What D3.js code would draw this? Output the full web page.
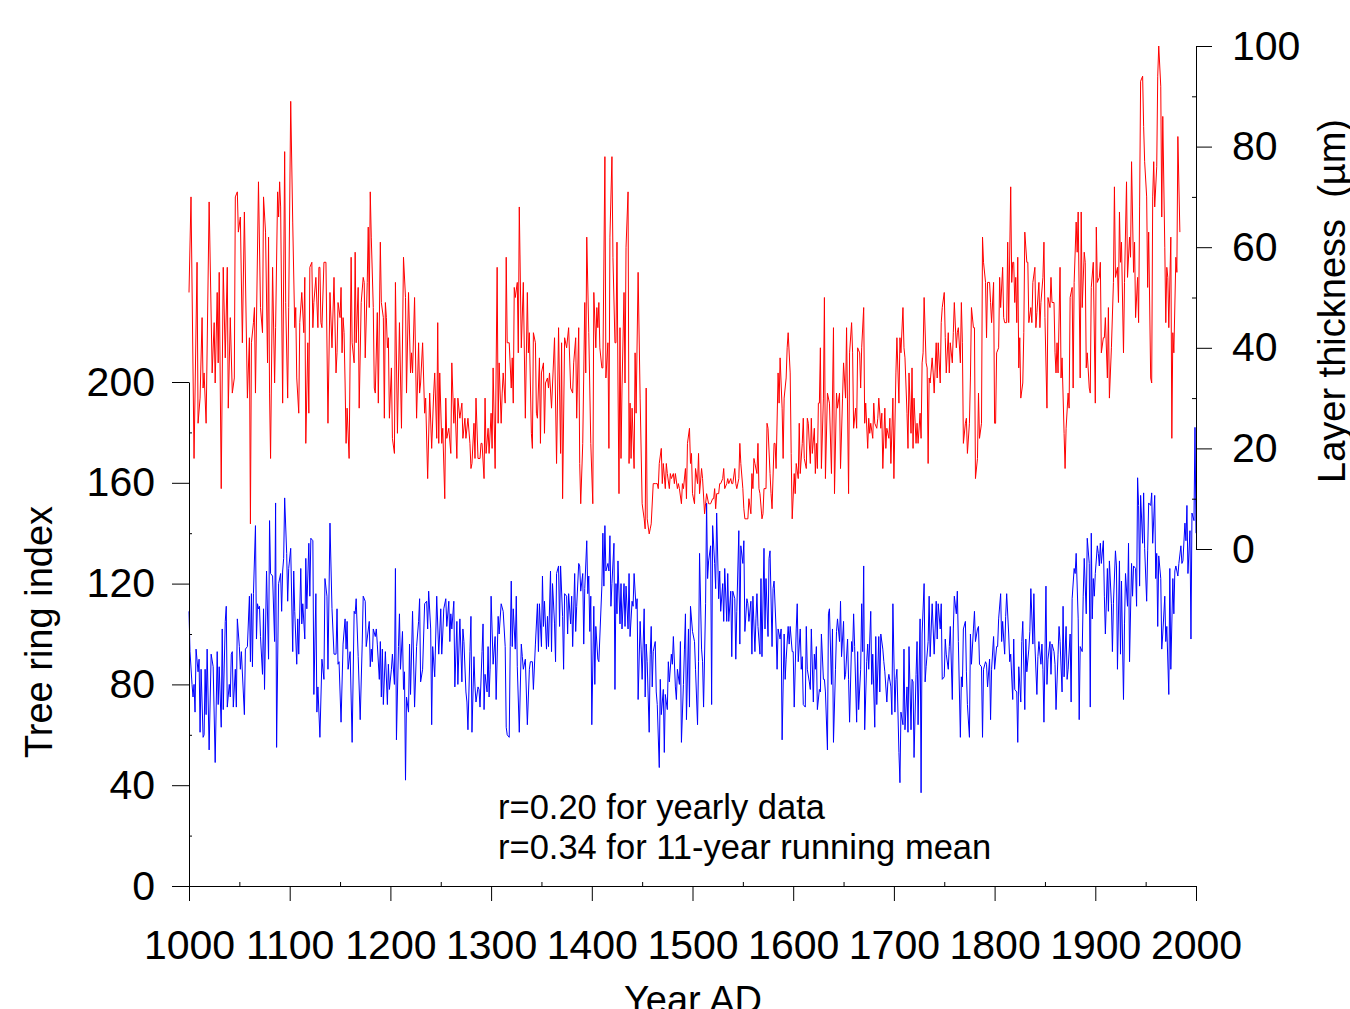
<!DOCTYPE html>
<html>
<head>
<meta charset="utf-8">
<style>
body { margin: 0; background: #fff; }
svg text { font-family: 'Liberation Sans', Arial, sans-serif; fill: #000; }
</style>
</head>
<body>
<svg></svg>
<script src="https://d3js.org/d3.v7.min.js"></script>
<script>

// tick values
const yearTicks = [1000, 1100, 1200, 1300, 1400, 1500, 1600, 1700, 1800, 1900, 2000];
const yearMinor = [1050, 1150, 1250, 1350, 1450, 1550, 1650, 1750, 1850, 1950];
const ringTicks = [0, 40, 80, 120, 160, 200];
const ringMinor = [20, 60, 100, 140, 180];
const layerTicks = [0, 20, 40, 60, 80, 100];
const layerMinor = [10, 30, 50, 70, 90];

const notes = ['r=0.20 for yearly data', 'r=0.34 for 11-year running mean'];

// layer thickness (µm): [year, value]
const layerData = [
[1000,51],[1002,70],[1005,18],[1008,57],[1009,25],[1011,30],[1013,46],[1014,32],[1015,35],[1017,25],[1020,69],[1023,35],[1025,45],[1026,33],[1028,51],[1029,37],[1030,55],[1032,12],[1034,56],[1036,38],[1038,56],[1039,28],[1041,46],[1043,31],[1045,34],[1046,70],[1048,71],[1049,63],[1051,66],[1053,41],[1055,67],[1058,30],[1060,42],[1061,5],[1062,41],[1064,45],[1065,48],[1066,31],[1069,73],[1071,48],[1073,43],[1074,70],[1076,63],[1078,37],[1079,62],[1080,31],[1081,18],[1083,56],[1085,33],[1086,44],[1088,71],[1089,66],[1090,73],[1091,68],[1093,29],[1095,79],[1096,49],[1098,30],[1099,48],
[1101,89],[1103,65],[1105,44],[1106,48],[1107,34],[1109,27],[1110,45],[1112,51],[1114,43],[1115,54],[1116,21],[1118,41],[1119,27],[1120,56],[1122,57],[1123,44],[1124,49],[1126,54],[1128,44],[1129,56],[1130,56],[1131,45],[1132,44],[1134,57],[1136,57],[1138,25],[1140,51],[1142,40],[1144,54],[1146,35],[1147,39],[1148,49],[1150,46],[1151,52],[1152,39],[1153,46],[1154,43],[1155,33],[1156,21],[1157,28],[1159,18],[1161,58],[1162,41],[1164,37],[1165,59],[1166,41],[1168,52],[1169,28],[1171,49],[1173,54],[1174,53],[1175,38],[1177,53],[1178,64],[1179,48],[1180,71],[1181,62],[1183,48],[1184,32],[1185,31],[1187,47],[1188,29],[1190,61],[1191,49],[1193,46],[1194,26],
[1195,49],[1196,46],[1197,40],[1198,42],[1199,26],[1201,36],[1202,22],[1204,19],[1205,53],[1207,23],[1209,45],[1211,24],[1213,58],[1215,50],[1216,31],[1218,51],[1220,35],[1221,39],[1222,35],[1224,50],[1226,26],[1228,41],[1229,31],[1230,33],[1232,41],[1234,27],[1235,30],[1237,14],[1239,31],[1241,20],[1243,31],[1244,35],[1246,22],[1247,45],[1248,21],[1249,35],[1251,21],[1252,24],[1254,10],[1255,30],[1256,22],[1258,24],[1260,19],[1261,37],[1263,25],[1264,30],[1266,18],[1267,30],[1269,26],[1271,29],[1272,22],[1274,26],[1275,22],[1277,26],[1279,21],[1280,16],[1281,17],[1283,25],[1284,18],[1285,30],[1287,18],[1289,18],[1290,21],[1291,21],[1293,14],
[1294,30],[1295,19],[1297,24],[1298,19],[1300,27],[1301,20],[1302,36],[1304,16],[1306,56],[1307,25],[1308,37],[1310,25],[1311,31],[1312,35],[1314,29],[1315,58],[1316,41],[1318,41],[1320,32],[1321,38],[1322,29],[1323,52],[1324,50],[1326,53],[1327,39],[1328,68],[1330,40],[1332,53],[1334,26],[1336,51],[1337,39],[1338,43],[1340,23],[1341,20],[1342,43],[1344,41],[1345,27],[1346,26],[1348,38],[1349,21],[1350,35],[1352,37],[1353,23],[1354,33],[1356,34],[1357,32],[1358,35],[1360,28],[1363,42],[1365,17],[1367,44],[1369,19],[1370,41],[1371,10],[1373,42],[1375,40],[1377,44],[1379,32],[1381,31],[1382,37],[1384,42],[1385,26],[1387,44],[1388,17],[1389,9],[1391,21],[1393,49],[1394,35],[1395,62],[1397,43],[1399,21],[1401,9],[1402,51],
[1404,40],[1405,48],[1406,44],[1407,49],[1408,40],[1410,36],[1411,36],[1413,78],[1414,34],[1416,41],[1417,20],[1418,62],[1420,78],[1421,58],[1423,41],[1424,41],[1425,61],[1426,33],[1427,11],[1428,44],[1429,18],[1430,32],[1432,51],[1433,33],[1434,60],[1436,71],[1437,17],[1438,29],[1439,18],[1440,28],[1442,16],[1443,39],[1444,27],[1446,55],[1448,30],[1450,9],[1452,6],[1453,4],[1454,32],[1455,6],[1457,3],[1458,4],[1459,5],[1461,13],[1463,13],[1465,13],[1466,12],[1467,17],[1469,20],[1470,13],[1471,17],[1473,12],[1474,17],[1475,15],[1477,12],[1478,15],[1479,14],[1481,15],[1482,13],[1483,15],[1485,12],[1486,13],[1487,12],[1489,9],[1490,13],[1491,12],[1493,16],[1494,10],[1495,21],[1497,24],[1498,17],[1499,19],[1500,11],[1502,9],
[1503,16],[1505,13],[1506,19],[1507,11],[1509,16],[1510,14],[1512,7],[1513,9],[1514,11],[1516,9],[1517,9],[1518,9],[1520,10],[1521,10],[1522,12],[1523,8],[1524,11],[1526,11],[1527,13],[1528,13],[1530,14],[1531,16],[1532,12],[1534,13],[1535,14],[1536,13],[1538,14],[1539,13],[1540,13],[1542,16],[1543,13],[1544,12],[1546,14],[1547,21],[1548,17],[1550,12],[1551,8],[1552,6],[1554,6],[1555,6],[1556,10],[1558,7],[1559,15],[1560,12],[1561,18],[1562,17],[1564,15],[1565,21],[1566,12],[1567,11],[1569,6],[1570,7],[1571,12],[1573,12],[1574,25],[1575,24],[1577,15],[1578,11],[1579,8],[1581,21],[1582,21],[1583,16],[1585,35],[1586,29],[1587,38],[1589,28],[1590,18],[1591,30],[1593,34],[1594,40],[1595,43],[1597,35],[1598,19],[1599,6],[1601,15],
[1602,11],[1603,17],[1605,14],[1606,25],[1607,15],[1609,21],[1610,26],[1611,18],[1613,16],[1614,26],[1615,25],[1617,17],[1618,26],[1619,19],[1621,24],[1622,15],[1623,21],[1624,16],[1625,29],[1626,29],[1627,40],[1628,16],[1630,30],[1631,50],[1632,14],[1634,31],[1636,29],[1638,15],[1640,44],[1641,11],[1643,31],[1644,28],[1646,31],[1647,16],[1649,30],[1650,37],[1652,30],[1653,44],[1655,11],[1656,39],[1658,45],[1659,39],[1660,24],[1662,28],[1663,24],[1664,40],[1666,39],[1667,32],[1668,40],[1670,48],[1671,25],[1672,29],[1674,20],[1675,26],[1676,23],[1677,25],[1679,22],[1680,29],[1681,25],[1683,24],[1684,26],[1685,30],[1687,24],[1688,27],[1689,16],[1691,28],[1692,20],[1693,24],[1695,22],[1696,26],[1697,17],[1699,30],[1700,14],
[1702,35],[1703,42],[1705,29],[1706,42],[1707,39],[1709,48],[1710,40],[1711,38],[1713,27],[1714,20],[1715,35],[1717,23],[1718,36],[1719,20],[1720,30],[1722,21],[1723,25],[1724,21],[1726,27],[1727,22],[1728,37],[1729,39],[1730,50],[1732,37],[1733,36],[1734,17],[1735,34],[1736,33],[1738,38],[1739,35],[1740,31],[1742,41],[1743,34],[1744,41],[1746,33],[1747,45],[1748,48],[1750,51],[1751,42],[1752,35],[1754,43],[1755,35],[1756,41],[1758,37],[1759,43],[1760,49],[1762,40],[1763,43],[1764,44],[1766,37],[1767,49],[1768,41],[1769,21],[1771,25],[1772,26],[1773,19],[1775,25],[1776,34],[1777,48],[1779,44],[1780,44],[1781,14],[1783,18],[1784,31],[1785,22],[1787,25],[1788,62],[1789,57],[1791,53],[1792,42],[1793,53],[1795,53],[1796,49],[1797,45],[1799,53],[1800,25],
[1801,25],[1802,39],[1804,40],[1805,54],[1806,48],[1808,56],[1809,46],[1810,45],[1812,45],[1813,61],[1814,45],[1816,72],[1817,53],[1818,57],[1819,57],[1820,49],[1821,54],[1822,45],[1823,58],[1824,36],[1825,42],[1826,30],[1828,33],[1829,43],[1830,63],[1832,57],[1833,57],[1834,45],[1836,48],[1837,45],[1838,53],[1840,56],[1841,44],[1842,47],[1844,53],[1845,44],[1846,49],[1848,54],[1849,61],[1850,46],[1852,28],[1853,50],[1855,48],[1856,54],[1857,49],[1859,49],[1860,39],[1861,35],[1862,41],[1863,35],[1865,56],[1866,34],[1867,38],[1869,23],[1870,16],[1871,24],[1873,31],[1874,28],[1875,50],[1877,52],[1878,32],[1879,53],[1881,65],[1882,59],[1883,67],[1885,34],[1886,67],[1887,48],[1889,59],
[1890,57],[1891,36],[1892,39],[1894,32],[1895,31],[1896,52],[1898,57],[1900,29],[1901,64],[1902,53],[1904,54],[1905,57],[1906,39],[1908,42],[1909,42],[1910,46],[1912,34],[1913,48],[1914,30],[1916,40],[1918,53],[1919,72],[1920,54],[1922,56],[1923,49],[1924,67],[1925,57],[1926,61],[1928,39],[1929,53],[1931,73],[1932,54],[1934,62],[1935,58],[1936,77],[1938,55],[1939,61],[1940,46],[1942,54],[1943,45],[1944,68],[1945,93],[1947,94],[1948,84],[1949,77],[1951,70],[1952,52],[1953,63],[1955,34],[1956,33],[1957,70],[1958,77],[1959,68],[1961,76],[1962,94],[1963,100],[1965,92],[1966,66],[1967,86],[1969,60],[1970,45],[1971,56],[1972,54],[1973,44],[1975,62],[1976,22],[1977,43],[1978,39],[1980,58],[1981,55],[1982,82],[1984,63]
];

// tree ring index: [year, value]
const ringData = [
[1000,109],[1001,93],[1003,80],[1004,75],[1005,80],[1006,69],[1007,94],[1009,85],[1010,90],[1011,61],[1012,86],[1014,59],[1015,60],[1016,86],[1017,68],[1018,94],[1020,54],[1022,92],[1024,87],[1026,49],[1028,93],[1029,72],[1030,87],[1032,63],[1033,102],[1034,70],[1036,105],[1037,111],[1038,71],[1040,80],[1041,75],[1042,92],[1043,93],[1044,71],[1046,86],[1047,71],[1048,106],[1050,95],[1051,86],[1052,93],[1055,68],[1056,94],[1058,95],[1060,115],[1061,89],[1062,116],[1063,87],[1064,116],[1066,143],[1067,98],[1068,112],[1069,110],[1070,111],[1071,99],[1073,84],[1074,110],[1075,78],[1077,125],[1079,90],[1080,145],[1081,124],[1083,123],[1085,97],[1086,152],[1087,55],[1089,120],[1091,124],[1092,109],[1093,125],[1094,130],[1095,154],[1097,132],[1098,113],[1099,126],
[1101,134],[1103,93],[1104,125],[1105,109],[1107,88],[1108,106],[1109,92],[1111,126],[1112,104],[1113,112],[1115,98],[1116,130],[1117,110],[1119,136],[1120,115],[1121,138],[1123,137],[1124,76],[1126,116],[1127,69],[1128,79],[1130,59],[1132,90],[1134,82],[1135,122],[1137,115],[1138,86],[1140,144],[1142,110],[1144,92],[1146,92],[1147,110],[1148,88],[1149,89],[1151,65],[1153,96],[1155,106],[1156,94],[1157,105],[1158,86],[1160,93],[1162,57],[1164,109],[1165,108],[1166,114],[1168,91],[1170,66],[1172,96],[1173,115],[1175,113],[1176,95],[1179,105],[1180,87],[1181,94],[1182,89],[1183,102],[1185,99],[1186,102],[1187,96],[1189,82],[1190,97],[1191,75],[1192,94],[1193,72],[1195,93],
[1197,72],[1198,88],[1199,78],[1201,86],[1202,92],[1204,80],[1205,126],[1206,58],[1208,95],[1209,108],[1210,86],[1212,101],[1213,78],[1214,85],[1215,42],[1216,75],[1218,69],[1219,96],[1220,76],[1222,109],[1224,71],[1226,95],[1228,105],[1229,114],[1230,81],[1232,86],[1234,112],[1236,113],[1237,102],[1238,117],[1240,102],[1241,64],[1242,95],[1244,83],[1246,115],[1248,92],[1250,110],[1251,92],[1252,100],[1253,110],[1255,114],[1256,103],[1258,113],[1259,97],[1260,108],[1261,102],[1263,113],[1264,79],[1266,105],[1267,80],[1269,106],[1271,81],[1272,102],[1273,97],[1275,77],[1276,73],[1277,62],[1279,93],[1280,107],[1281,61],[1283,91],[1284,79],[1285,73],[1287,79],[1288,78],[1289,71],[1291,93],[1292,104],[1293,70],
[1294,84],[1296,77],[1297,95],[1298,75],[1299,86],[1300,115],[1302,88],[1304,99],[1305,74],[1307,107],[1308,100],[1310,112],[1312,109],[1314,95],[1315,63],[1316,60],[1318,59],[1319,95],[1320,121],[1321,95],[1322,110],[1324,94],[1325,115],[1326,87],[1328,61],[1330,96],[1331,91],[1332,86],[1334,90],[1336,64],[1338,86],[1339,89],[1341,89],[1342,78],[1344,96],[1346,112],[1347,93],[1348,112],[1350,95],[1351,123],[1352,103],[1353,113],[1355,94],[1356,107],[1357,95],[1359,125],[1360,93],[1361,120],[1363,104],[1364,89],[1365,124],[1367,127],[1368,103],[1369,127],[1371,107],[1372,86],[1373,116],[1375,115],[1376,100],[1377,116],[1379,104],[1380,115],[1381,95],[1383,124],[1384,101],[1385,111],[1387,128],[1388,127],[1389,117],[1391,124],[1392,96],[1393,118],[1395,137],[1396,116],[1397,123],[1398,101],[1399,115],[1400,64],
[1402,111],[1403,80],[1404,103],[1406,90],[1407,89],[1410,119],[1411,140],[1412,119],[1413,143],[1414,125],[1416,128],[1417,125],[1418,139],[1419,111],[1420,120],[1422,136],[1423,78],[1424,120],[1425,108],[1426,129],[1428,104],[1429,120],[1430,102],[1432,120],[1433,103],[1434,119],[1436,102],[1437,124],[1438,99],[1440,113],[1441,111],[1442,124],[1444,110],[1445,114],[1446,74],[1448,105],[1449,94],[1450,82],[1452,110],[1453,75],[1454,96],[1455,89],[1457,61],[1458,92],[1459,103],[1460,79],[1461,93],[1463,97],[1464,77],[1465,72],[1467,47],[1468,82],[1469,68],[1471,78],[1472,53],[1473,76],[1475,70],[1476,89],[1477,81],[1479,92],[1480,88],[1481,99],[1483,79],[1484,74],[1485,86],[1487,80],[1488,97],[1489,57],[1491,80],[1492,94],[1493,108],[1494,66],[1496,102],[1497,71],[1498,111],[1500,101],
[1502,97],[1503,86],[1505,64],[1506,89],[1507,132],[1509,94],[1510,89],[1511,71],[1513,112],[1514,152],[1515,122],[1516,129],[1518,135],[1519,72],[1520,143],[1522,128],[1523,118],[1524,148],[1526,114],[1527,125],[1528,109],[1530,120],[1531,105],[1532,126],[1534,105],[1535,124],[1536,105],[1538,117],[1539,91],[1540,117],[1542,114],[1543,90],[1544,109],[1546,141],[1547,96],[1548,135],[1550,128],[1551,137],[1552,101],[1554,114],[1555,112],[1556,105],[1558,113],[1559,92],[1560,115],[1562,93],[1563,106],[1564,116],[1565,103],[1567,92],[1568,122],[1569,91],[1571,134],[1572,102],[1573,122],[1575,99],[1576,130],[1577,133],[1579,95],[1580,118],[1581,121],[1583,102],[1584,86],[1585,102],[1587,98],[1588,102],[1589,58],[1591,100],[1592,82],[1593,90],[1595,103],[1596,96],[1597,103],[1599,93],[1600,93],
[1601,71],[1603,102],[1604,112],[1605,89],[1607,102],[1608,86],[1609,91],[1610,72],[1612,71],[1613,103],[1614,86],[1616,81],[1617,78],[1618,102],[1620,73],[1621,92],[1622,86],[1623,95],[1624,70],[1626,78],[1627,77],[1628,100],[1630,82],[1631,82],[1632,77],[1634,54],[1635,108],[1636,110],[1638,80],[1639,102],[1640,57],[1642,86],[1643,101],[1644,106],[1646,97],[1647,113],[1648,91],[1650,105],[1651,82],[1652,84],[1654,98],[1655,82],[1656,65],[1658,97],[1659,93],[1660,108],[1661,95],[1663,65],[1664,93],[1665,70],[1667,86],[1668,112],[1669,93],[1670,127],[1671,62],[1673,89],[1674,96],[1675,86],[1677,109],[1678,80],[1679,92],[1681,63],[1682,99],[1683,72],[1685,99],[1686,77],[1687,100],[1689,94],[1690,89],[1691,85],[1693,73],[1694,81],[1695,84],[1697,79],[1698,68],[1699,112],
[1701,69],[1702,82],[1703,86],[1705,53],[1706,41],[1707,69],[1709,64],[1710,94],[1711,62],[1713,79],[1714,61],[1715,95],[1717,62],[1718,82],[1719,81],[1720,51],[1722,84],[1723,97],[1724,64],[1726,106],[1727,37],[1728,100],[1730,120],[1731,81],[1732,87],[1734,97],[1735,115],[1736,91],[1738,112],[1739,102],[1740,92],[1742,113],[1743,98],[1744,112],[1746,102],[1747,112],[1748,82],[1750,83],[1751,98],[1752,92],[1754,86],[1755,95],[1756,103],[1758,74],[1759,102],[1760,115],[1762,108],[1763,117],[1764,97],[1766,59],[1767,83],[1768,79],[1769,102],[1771,105],[1772,85],[1773,72],[1775,59],[1776,100],[1777,88],[1779,102],[1780,109],[1781,97],[1783,102],[1784,103],[1785,88],[1787,87],[1788,59],[1789,86],[1791,89],[1792,88],[1793,79],[1795,90],[1796,66],[1797,86],[1799,99],[1800,86],
[1802,95],[1803,95],[1804,106],[1806,116],[1807,97],[1808,105],[1810,92],[1811,107],[1812,116],[1814,100],[1815,89],[1816,92],[1818,74],[1819,98],[1820,78],[1822,77],[1823,57],[1824,87],[1826,73],[1827,97],[1828,105],[1830,70],[1831,98],[1832,85],[1834,94],[1835,101],[1836,118],[1838,96],[1839,116],[1840,96],[1842,76],[1843,91],[1844,97],[1846,88],[1847,96],[1848,86],[1849,65],[1851,119],[1852,80],[1853,90],[1855,97],[1856,84],[1857,96],[1859,93],[1860,88],[1861,70],[1863,92],[1864,103],[1865,97],[1867,77],[1868,111],[1869,83],[1871,103],[1872,82],[1873,86],[1875,100],[1876,73],[1877,114],[1879,126],[1880,124],[1881,132],[1883,106],[1884,66],[1885,95],[1887,93],[1888,115],[1889,130],
[1891,108],[1892,138],[1894,128],[1895,71],[1896,140],[1897,106],[1898,122],[1899,115],[1900,124],[1902,135],[1903,132],[1904,127],[1905,136],[1906,128],[1908,137],[1909,115],[1910,100],[1912,126],[1913,109],[1914,129],[1916,112],[1917,93],[1918,112],[1920,133],[1921,127],[1922,86],[1924,129],[1925,92],[1926,121],[1928,74],[1929,104],[1930,124],[1932,111],[1933,136],[1934,89],[1936,128],[1937,115],[1938,127],[1940,126],[1941,111],[1942,162],[1943,151],[1944,119],[1945,155],[1947,136],[1948,156],[1949,134],[1951,113],[1952,133],[1953,152],[1955,151],[1956,156],[1957,136],[1959,155],[1960,122],[1961,132],[1962,103],[1963,131],[1965,122],[1966,94],[1967,100],[1969,115],[1970,97],[1971,103],[1973,76],[1974,126],[1975,86],[1977,122],[1978,108],[1979,125],[1980,127],[1982,123],[1983,128],[1985,135],[1986,128],[1987,129],[1989,144],[1990,137],[1991,151],[1992,124],[1994,141],[1995,98],[1996,148],[1998,145],[1999,182],[2000,140]
];

const width = 1350;
const height = 1009;

const svg = d3.select('svg')
    .attr('width', width)
    .attr('height', height);

const x = d3.scaleLinear().domain([1000, 2000]).range([189, 1196]);
const yRing = d3.scaleLinear().domain([0, 200]).range([886, 382]);
const yLayer = d3.scaleLinear().domain([0, 100]).range([549, 46]);

// data lines
const ringLine = d3.line().x(d => x(d[0])).y(d => yRing(d[1]));
const layerLine = d3.line().x(d => x(d[0])).y(d => yLayer(d[1]));

svg.append('path')
    .datum(ringData)
    .attr('fill', 'none')
    .attr('stroke', '#0000ff')
    .attr('stroke-width', 1)
    .attr('d', ringLine);

svg.append('path')
    .datum(layerData)
    .attr('fill', 'none')
    .attr('stroke', '#ff0000')
    .attr('stroke-width', 1)
    .attr('d', layerLine);

// axes
function styleAxis(g, size) {
    g.selectAll('path, line').attr('stroke', '#000').attr('stroke-width', 1);
    g.selectAll('text').style('font-size', size + 'px').attr('fill', '#000');
    g.attr('font-family', null);
}

const xAxis = svg.append('g')
    .attr('transform', 'translate(0,886)')
    .call(d3.axisBottom(x).tickValues(yearTicks).tickFormat(d3.format('d'))
        .tickSize(15).tickSizeOuter(0).tickPadding(29));
styleAxis(xAxis, 41);

svg.append('g')
    .attr('transform', 'translate(0,886)')
    .call(d3.axisTop(x).tickValues(yearMinor).tickFormat('').tickSize(4).tickSizeOuter(0))
    .call(g => g.select('.domain').remove())
    .call(g => styleAxis(g, 10));

const leftAxis = svg.append('g')
    .attr('transform', 'translate(189,0)')
    .call(d3.axisLeft(yRing).tickValues(ringTicks).tickSize(17).tickSizeOuter(0).tickPadding(17));
styleAxis(leftAxis, 41);

svg.append('g')
    .attr('transform', 'translate(189,0)')
    .call(d3.axisRight(yRing).tickValues(ringMinor).tickFormat('').tickSize(3).tickSizeOuter(0))
    .call(g => g.select('.domain').remove())
    .call(g => styleAxis(g, 10));

const rightAxis = svg.append('g')
    .attr('transform', 'translate(1196,0)')
    .call(d3.axisRight(yLayer).tickValues(layerTicks).tickSize(16).tickSizeOuter(0).tickPadding(20));
styleAxis(rightAxis, 41);

svg.append('g')
    .attr('transform', 'translate(1196,0)')
    .call(d3.axisLeft(yLayer).tickValues(layerMinor).tickFormat('').tickSize(4).tickSizeOuter(0))
    .call(g => g.select('.domain').remove())
    .call(g => styleAxis(g, 10));

// axis titles
svg.append('text')
    .attr('x', 693)
    .attr('y', 1013)
    .attr('text-anchor', 'middle')
    .style('font-size', '38px')
    .text('Year AD');

svg.append('text')
    .attr('transform', 'translate(52,632) rotate(-90)')
    .attr('text-anchor', 'middle')
    .style('font-size', '38px')
    .text('Tree ring index');

svg.append('text')
    .attr('transform', 'translate(1345,301) rotate(-90)')
    .attr('text-anchor', 'middle')
    .style('font-size', '38px')
    .style('white-space', 'pre')
    .text('Layer thickness  (µm)');

// correlation note
svg.append('g').selectAll('text')
    .data(notes)
    .join('text')
    .attr('x', 498)
    .attr('y', (d, i) => 819 + i * 40)
    .style('font-size', '34.5px')
    .text(d => d);

</script>
